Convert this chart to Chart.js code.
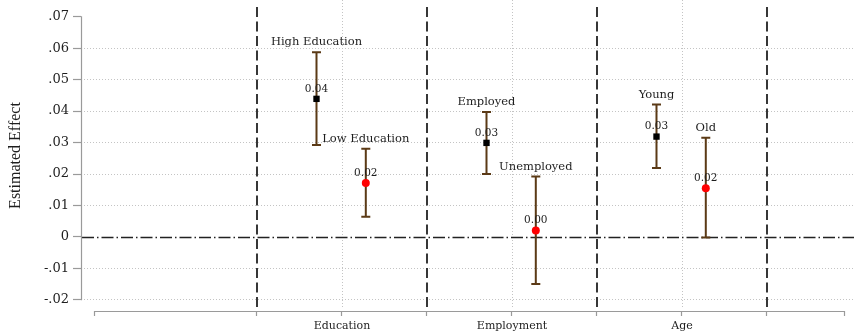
<!DOCTYPE html>
<html>
<head>
<meta charset="utf-8">
<script src="https://cdn.jsdelivr.net/npm/chart.js@4.4.1/dist/chart.umd.min.js"></script>
<style>
  html, body { margin: 0; padding: 0; background: #fff; }
  #wrap { width: 854px; height: 331px; }
</style>
</head>
<body>
<div id="wrap"><canvas id="c" width="854" height="331"></canvas></div>
<script>
// ---- data ----
const categories = ['Education', 'Employment', 'Age'];
const categoryPositions = [2, 3, 4];
const groupLabels = ['High Education', 'Low Education', 'Employed', 'Unemployed', 'Young', 'Old'];
const groupCategory = [0, 0, 1, 1, 2, 2];
const groupKind = ['high', 'low', 'high', 'low', 'high', 'low'];
const estimates = [0.0439, 0.0171, 0.0299, 0.0020, 0.0319, 0.0155];
const lowerCI   = [0.0292, 0.0064, 0.0200, -0.0150, 0.0219, -0.0002];
const upperCI   = [0.0587, 0.0280, 0.0397, 0.0192, 0.0421, 0.0315];
const yTickValues = [-0.02, -0.01, 0, 0.01, 0.02, 0.03, 0.04, 0.05, 0.06, 0.07];
const yTickLabels = ['-.02', '-.01', '0', '.01', '.02', '.03', '.04', '.05', '.06', '.07'];
const separators = [1.5, 2.5, 3.5, 4.5];

// ---- layout / style constants ----
const kindOffset = { high: -0.15, low: 0.14 };
const X_MIN = 0.4647, X_MAX = 5.0118;        // full plot width
const X_AXIS_FROM = 0.547, X_AXIS_TO = 4.953; // drawn extent of x axis line
const Y_MIN = -0.023575, Y_MAX = 0.075344;
const AXIS_GREY = '#9a9a9a';
const TEXT = '#1e1e1e';
const BAR_COLOR = '#5b3a16';

const xOf = i => categoryPositions[groupCategory[i]] + kindOffset[groupKind[i]];

function pointsFor(kind) {
  const pts = [];
  estimates.forEach((v, i) => { if (groupKind[i] === kind) pts.push({ x: xOf(i), y: v, i }); });
  return pts;
}

const xTickValues = [X_AXIS_FROM, ...separators.slice(0, 1), ...categoryPositions.flatMap((c, k) => [c, separators[k + 1]]), X_AXIS_TO];

const decorPlugin = {
  id: 'decor',
  beforeDatasetsDraw(chart) {
    const { ctx, chartArea: a, scales: { x, y } } = chart;
    ctx.save();
    // dotted vertical grid at category positions
    ctx.strokeStyle = '#c4c4c4';
    ctx.lineWidth = 1;
    ctx.setLineDash([1, 2]);
    categoryPositions.forEach(c => {
      const px = Math.round(x.getPixelForValue(c)) + 0.5;
      ctx.beginPath(); ctx.moveTo(px, a.top); ctx.lineTo(px, a.bottom - 2); ctx.stroke();
    });
    // zero reference line
    const y0 = Math.round(y.getPixelForValue(0)) + 0.5;
    ctx.strokeStyle = '#222';
    ctx.lineWidth = 1.4;
    ctx.setLineDash([12, 3, 1.5, 3]);
    ctx.beginPath(); ctx.moveTo(a.left + 1, y0); ctx.lineTo(a.right, y0); ctx.stroke();
    // dashed separators between groups
    ctx.lineWidth = 1.8;
    ctx.setLineDash([10, 4.5]);
    separators.forEach(s => {
      const px = Math.round(x.getPixelForValue(s));
      ctx.beginPath(); ctx.moveTo(px, a.top + 7); ctx.lineTo(px, a.bottom - 2); ctx.stroke();
    });
    ctx.setLineDash([]);
    // y axis line
    ctx.strokeStyle = AXIS_GREY;
    ctx.lineWidth = 1.2;
    const yTop = y.getPixelForValue(yTickValues[yTickValues.length - 1]);
    const yBot = y.getPixelForValue(yTickValues[0]);
    ctx.beginPath(); ctx.moveTo(a.left + 0.5, yTop - 0.5); ctx.lineTo(a.left + 0.5, yBot + 0.5); ctx.stroke();
    // x axis line
    const xb = a.bottom + 0.5;
    ctx.beginPath(); ctx.moveTo(x.getPixelForValue(X_AXIS_FROM), xb); ctx.lineTo(x.getPixelForValue(X_AXIS_TO), xb); ctx.stroke();
    // confidence intervals
    ctx.strokeStyle = BAR_COLOR;
    ctx.lineWidth = 2;
    estimates.forEach((v, i) => {
      const px = x.getPixelForValue(xOf(i));
      const pl = y.getPixelForValue(lowerCI[i]);
      const ph = y.getPixelForValue(upperCI[i]);
      ctx.beginPath();
      ctx.moveTo(px, pl); ctx.lineTo(px, ph);
      ctx.moveTo(px - 4.5, pl); ctx.lineTo(px + 4.5, pl);
      ctx.moveTo(px - 4.5, ph); ctx.lineTo(px + 4.5, ph);
      ctx.stroke();
    });
    ctx.restore();
  },
  afterDatasetsDraw(chart) {
    const { ctx, scales: { x, y } } = chart;
    ctx.save();
    ctx.fillStyle = TEXT;
    ctx.textAlign = 'center';
    ctx.textBaseline = 'middle';
    estimates.forEach((v, i) => {
      const px = x.getPixelForValue(xOf(i));
      ctx.font = '10.5px "DejaVu Serif"';
      ctx.fillText(v.toFixed(2), px, y.getPixelForValue(v) - 10);
      ctx.font = '11.5px "DejaVu Serif"';
      ctx.fillText(groupLabels[i], px, y.getPixelForValue(upperCI[i]) - 10);
    });
    ctx.restore();
  }
};

new Chart(document.getElementById('c'), {
  type: 'scatter',
  data: {
    datasets: [
      { label: 'high', data: pointsFor('high'), pointStyle: 'rect', pointRadius: 4.5, pointHoverRadius: 4.5, backgroundColor: '#000', borderColor: '#000', borderWidth: 0 },
      { label: 'low', data: pointsFor('low'), pointStyle: 'circle', pointRadius: 4, pointHoverRadius: 4, backgroundColor: '#ff0000', borderColor: '#ff0000', borderWidth: 0 }
    ]
  },
  options: {
    responsive: false,
    animation: false,
    devicePixelRatio: 1,
    layout: { padding: 0, autoPadding: false },
    plugins: { legend: { display: false }, tooltip: { enabled: false } },
    scales: {
      x: {
        type: 'linear',
        min: X_MIN,
        max: X_MAX,
        afterBuildTicks: s => { s.ticks = xTickValues.map(v => ({ value: v })); },
        afterFit: s => { s.height = 20; s.paddingLeft = 0; s.paddingRight = 0; },
        border: { display: false },
        grid: { drawOnChartArea: false, drawTicks: true, tickLength: 5, tickColor: AXIS_GREY, tickWidth: 1.2, color: AXIS_GREY },
        ticks: {
          autoSkip: false, maxRotation: 0, padding: 4, color: TEXT,
          font: { family: 'DejaVu Serif', size: 11 },
          callback: v => { const k = categoryPositions.indexOf(v); return k >= 0 ? categories[k] : ''; }
        }
      },
      y: {
        min: Y_MIN,
        max: Y_MAX,
        afterBuildTicks: s => { s.ticks = yTickValues.map(v => ({ value: v })); },
        afterFit: s => { s.width = 81; s.paddingTop = 0; s.paddingBottom = 0; },
        border: { display: false, dash: [1, 2] },
        grid: {
          drawTicks: true, tickLength: 8, tickColor: AXIS_GREY, tickWidth: 1.2, lineWidth: 1,
          color: c => (c.tick && (c.tick.value === 0 || c.tick.value === yTickValues[yTickValues.length - 1])) ? 'rgba(0,0,0,0)' : '#c4c4c4'
        },
        ticks: {
          padding: 4, color: TEXT,
          font: { family: 'DejaVu Serif', size: 13 },
          callback: v => { const k = yTickValues.indexOf(v); return k >= 0 ? yTickLabels[k] : ''; }
        },
        title: {
          display: true, text: 'Estimated Effect', color: TEXT,
          font: { family: 'Liberation Serif', size: 16 },
          padding: { top: 6, bottom: 0 }
        }
      }
    }
  },
  plugins: [decorPlugin]
});
</script>
</body>
</html>
